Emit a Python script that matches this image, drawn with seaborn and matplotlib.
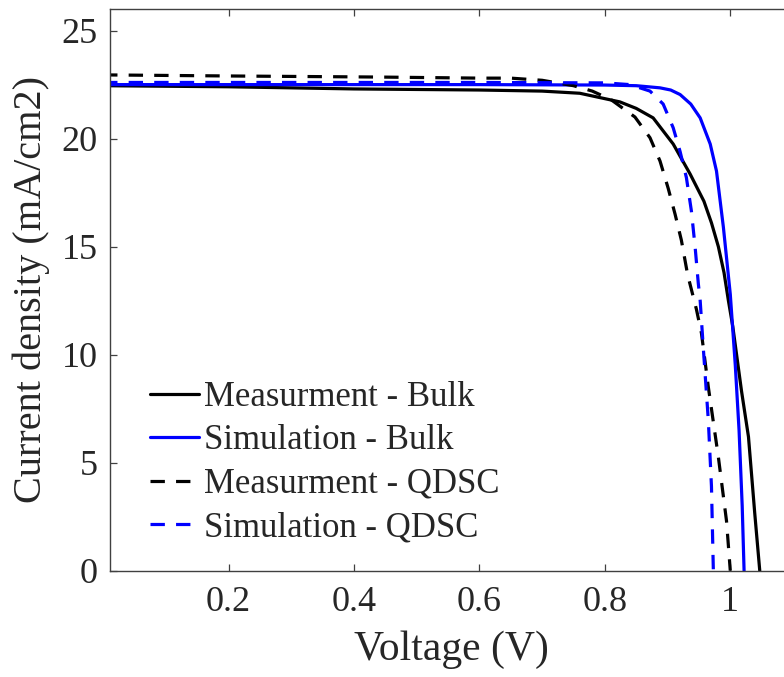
import numpy as np
import pandas as pd
import matplotlib
matplotlib.use("Agg")
import matplotlib.pyplot as plt
import seaborn as sns

# J-V curves
v_meas_bulk = [0.0, 0.2, 0.4, 0.6, 0.7, 0.76, 0.8, 0.824, 0.85, 0.877, 0.909, 0.936,
               0.958, 0.970, 0.981, 0.990, 0.997, 1.004, 1.018, 1.029, 1.039, 1.047]
j_meas_bulk = [22.45, 22.4, 22.3, 22.25, 22.2, 22.1, 21.85, 21.7, 21.4, 20.96, 19.75, 18.36,
               17.1, 16.1, 15.0, 13.8, 12.5, 11.3, 8.3, 6.2, 2.66, 0.0]

v_sim_bulk = [0.0, 0.2, 0.4, 0.6, 0.8, 0.85, 0.888, 0.905, 0.92, 0.937, 0.952, 0.968,
              0.978, 0.989, 1.0, 1.008, 1.014, 1.019, 1.022]
j_sim_bulk = [22.5, 22.5, 22.5, 22.5, 22.48, 22.45, 22.35, 22.25, 22.04, 21.6, 20.96, 19.75,
              18.5, 15.9, 12.8, 9.5, 6.5, 3.0, 0.0]

v_meas_qdsc = [0.0, 0.2, 0.44, 0.6, 0.65, 0.7, 0.75, 0.78, 0.81, 0.848, 0.872, 0.888,
               0.901, 0.912, 0.922, 0.932, 0.946, 0.954, 0.965, 0.981, 0.994, 1.0]
j_meas_qdsc = [22.95, 22.9, 22.85, 22.8, 22.8, 22.7, 22.45, 22.2, 21.8, 21.0, 20.04, 18.96,
               17.7, 16.5, 15.3, 13.7, 12.1, 11.0, 8.5, 5.26, 2.3, 0.0]

v_sim_qdsc = [0.0, 0.2, 0.4, 0.6, 0.8, 0.84, 0.872, 0.893, 0.909, 0.92, 0.93, 0.938,
              0.944, 0.949, 0.952, 0.957, 0.965, 0.970, 0.973]
j_sim_qdsc = [22.6, 22.6, 22.6, 22.6, 22.58, 22.5, 22.2, 21.6, 20.5, 19.4, 18.2, 16.65,
              14.96, 13.3, 12.5, 10.3, 6.96, 3.9, 0.0]

labels = ["Measurment - Bulk", "Simulation - Bulk", "Measurment - QDSC", "Simulation - QDSC"]
colors = ["black", "#0000ff", "black", "#0000ff"]

frames = []
for lab, v, j in zip(labels,
                     [v_meas_bulk, v_sim_bulk, v_meas_qdsc, v_sim_qdsc],
                     [j_meas_bulk, j_sim_bulk, j_meas_qdsc, j_sim_qdsc]):
    frames.append(pd.DataFrame({"Voltage": v, "Current": j, "Series": lab}))
df = pd.concat(frames, ignore_index=True)

sns.set_style("ticks")
plt.rcParams["font.family"] = ["Liberation Serif", "DejaVu Serif"]

fig = plt.figure(figsize=(7.84, 6.77), dpi=100)
ax = fig.add_axes([110 / 784, 1 - 570.7 / 677, 683 / 784, 561.7 / 677])

sns.lineplot(data=df, x="Voltage", y="Current", hue="Series", style="Series",
             hue_order=labels, style_order=labels,
             palette=dict(zip(labels, colors)),
             dashes={labels[0]: "", labels[1]: "", labels[2]: (4.5, 3.5), labels[3]: (4.5, 3.5)},
             estimator=None, linewidth=2.3, ax=ax, legend=False)

ax.set_xlim(0.011, 1.1)
ax.set_ylim(0, 26)
ax.set_xticks([0.2, 0.4, 0.6, 0.8, 1.0])
ax.set_xticklabels(["0.2", "0.4", "0.6", "0.8", "1"])
ax.set_yticks([0, 5, 10, 15, 20, 25])

for s in ax.spines.values():
    s.set_color("#404040")
    s.set_linewidth(1.0)
ax.tick_params(direction="in", length=5, width=0.9, color="#404040",
               labelsize=26, labelcolor="#262626", top=True, right=False)
ax.tick_params(axis="x", pad=11)
ax.tick_params(axis="y", pad=9)

ax.set_xlabel("Voltage (V)", fontsize=30, color="#262626", labelpad=8)
ax.set_ylabel("Current density (mA/cm2)", fontsize=29, color="#262626")
ax.yaxis.set_label_coords(-0.088, 0.5)

handles = [plt.Line2D([0], [0], color=c, lw=2.3,
                      linestyle="-" if i < 2 else (0, (4.5, 3.5)))
           for i, c in enumerate(colors)]
ax.legend(handles, labels, loc="upper left", bbox_to_anchor=(150 / 784, 1 - 381 / 677),
          bbox_transform=fig.transFigure, frameon=False, fontsize=25,
          borderpad=0, borderaxespad=0, handlelength=1.4, handletextpad=0.15,
          labelspacing=0.30)

fig.savefig("out.png", dpi=100)
